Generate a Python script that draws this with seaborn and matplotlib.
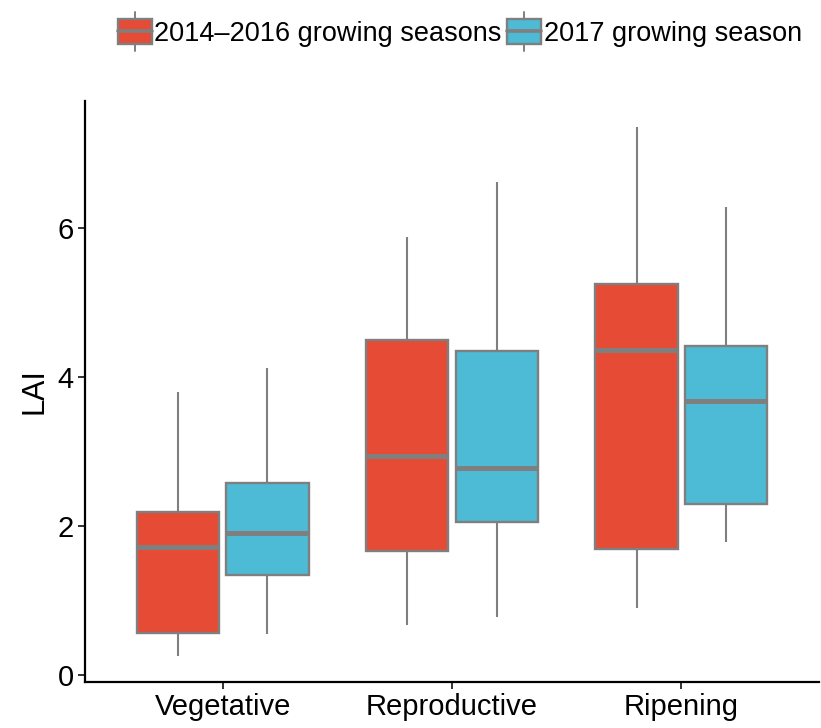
import numpy as np
import pandas as pd
import matplotlib
matplotlib.use("Agg")
import matplotlib.pyplot as plt
from matplotlib.patches import Rectangle
from matplotlib.lines import Line2D
import seaborn as sns

# Growth stages and seasons
stages = ["Vegetative", "Reproductive", "Ripening"]
seasons = ["2014\u20132016 growing seasons", "2017 growing season"]

# Five-number summaries of LAI: [min, Q1, median, Q3, max]
lai_2014_2016 = [
    [0.25, 0.57, 1.72, 2.18, 3.79],   # Vegetative
    [0.67, 1.67, 2.94, 4.50, 5.87],   # Reproductive
    [0.90, 1.69, 4.36, 5.25, 7.35],   # Ripening
]
lai_2017 = [
    [0.55, 1.34, 1.90, 2.57, 4.12],
    [0.78, 2.05, 2.78, 4.34, 6.62],
    [1.79, 2.29, 3.67, 4.42, 6.28],
]

colors = ["#E64B35", "#4DBBD5"]
edge = "#7F7F7F"

rows = []
for season, summ in zip(seasons, [lai_2014_2016, lai_2017]):
    for stage, vals in zip(stages, summ):
        for v in vals:
            rows.append({"stage": stage, "season": season, "LAI": v})
df = pd.DataFrame(rows)

sns.set_theme(style="ticks")
plt.rcParams["font.family"] = ["Liberation Sans", "DejaVu Sans"]
plt.rcParams["text.color"] = "black"
plt.rcParams["axes.labelcolor"] = "black"

fig = plt.figure(figsize=(8.21, 7.28), dpi=100)
ax = fig.add_axes([85 / 821, 1 - 682 / 728, (819 - 85) / 821, (682 - 101) / 728])

sns.boxplot(
    data=df, x="stage", y="LAI", hue="season", order=stages, hue_order=seasons,
    palette=colors, whis=(0, 100), width=0.78, gap=0.08, showcaps=False,
    showfliers=False, linecolor=edge, linewidth=1.7, saturation=1,
    medianprops=dict(linewidth=3.6, color=edge, solid_capstyle="butt"),
    whiskerprops=dict(linewidth=1.5, color=edge),
    ax=ax, legend=False,
)

ax.set_xlim(-0.6, 2.6)
ax.set_ylim(-0.094, 7.70)
ax.set_yticks([0, 2, 4, 6])
ax.set_xlabel("")
ax.set_ylabel("LAI", fontsize=22, labelpad=6, color="black")
ax.tick_params(axis="both", labelsize=21, length=5, width=1.4, color="#333333",
               labelcolor="black", pad=3)
for side in ["top", "right"]:
    ax.spines[side].set_visible(False)
for side in ["left", "bottom"]:
    ax.spines[side].set_linewidth(1.6)
    ax.spines[side].set_color("black")


class BoxKey:
    """Legend key drawn as a small box with median line and whisker stubs."""

    def legend_artist(self, legend, orig_handle, fontsize, handlebox):
        x0, y0 = -handlebox.xdescent, -handlebox.ydescent
        w, h = handlebox.width, handlebox.height
        tr = handlebox.get_transform()
        ext = 0.3 * h
        whisk = Line2D([x0 + w / 2, x0 + w / 2], [y0 - ext, y0 + h + ext],
                       color=edge, linewidth=1.4, transform=tr)
        box = Rectangle((x0, y0), w, h, facecolor=orig_handle.get_facecolor(),
                        edgecolor=edge, linewidth=1.7, transform=tr)
        med = Line2D([x0, x0 + w], [y0 + h / 2, y0 + h / 2], color=edge,
                     linewidth=2.6, transform=tr)
        for a in (whisk, box, med):
            handlebox.add_artist(a)
        return box


handles = [Rectangle((0, 0), 1, 1, facecolor=c) for c in colors]
fig.legend(handles, seasons, loc="center", bbox_to_anchor=(0.56, 1 - 33 / 728),
           ncol=2, frameon=False, fontsize=19.5, handlelength=1.25, handleheight=1.0,
           handletextpad=0.1, columnspacing=0.2, labelcolor="black",
           handler_map={Rectangle: BoxKey()})

fig.savefig("out.png", dpi=100)
